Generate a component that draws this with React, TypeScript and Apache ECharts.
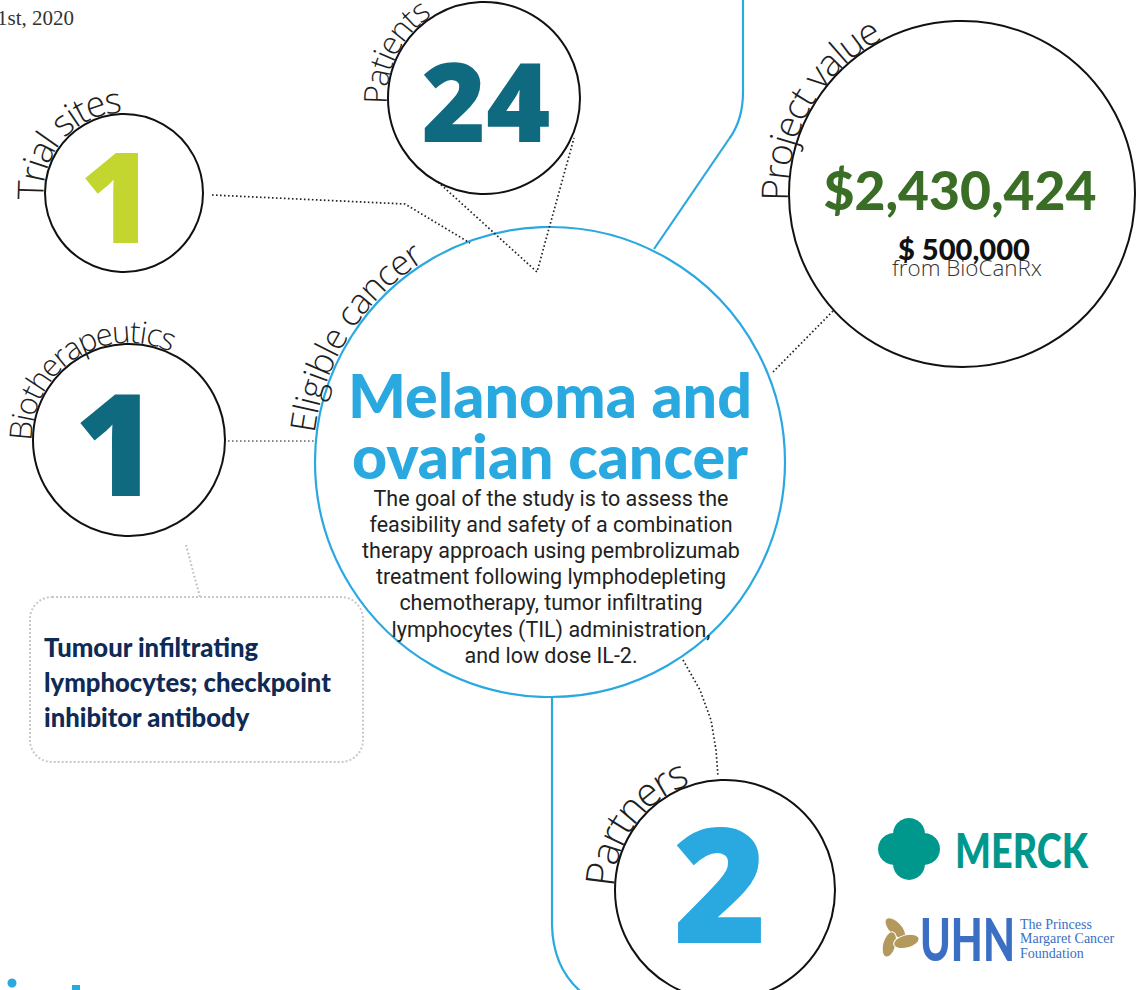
import React, { useEffect, useRef } from "react";
import * as echarts from "echarts";

// ---- content ----
const dateText = "1st, 2020";
const statLabels = ["Trial sites", "Patients", "Biotherapeutics", "Partners"];
const statValues = ["1", "24", "1", "2"];
const statColors = ["#c2d62f", "#0f6a80", "#0f6a80", "#2aa8e0"];
const cancerLabel = "Eligible cancer";
const cancerTitle = ["Melanoma and", "ovarian cancer"];
const studyLines = [
  "The goal of the study is to assess the",
  "feasibility and safety of a combination",
  "therapy approach using pembrolizumab",
  "treatment following lymphodepleting",
  "chemotherapy, tumor infiltrating",
  "lymphocytes (TIL) administration,",
  "and low dose IL-2.",
];
const projectLabel = "Project value";
const projectValue = "$2,430,424";
const bioCanRxValue = "$ 500,000";
const bioCanRxLabel = "from BioCanRx";
const biotherapeuticLines = ["Tumour infiltrating", "lymphocytes; checkpoint", "inhibitor antibody"];
const partnerNames = ["MERCK", "UHN"];
const pmLines = ["The Princess", "Margaret Cancer", "Foundation"];

// ---- layout ----
const THIN = "Open Sans";
const BOLD = "Lato";
const DIGIT = "Open Sans";
const INK = "#1f1f1f";
const BLUE = "#2aa8e0";

let measureCtx: CanvasRenderingContext2D | null = null;
function textWidth(t: string, size: number, weight: string | number, family: string) {
  if (!measureCtx) measureCtx = document.createElement("canvas").getContext("2d");
  measureCtx!.font = `${weight} ${size}px "${family}"`;
  return measureCtx!.measureText(t).width;
}
function sizeFor(t: string, weight: string | number, family: string, target: number) {
  return (100 * target) / textWidth(t, 100, weight, family);
}

function arcText(text: string, cx: number, cy: number, R: number, startDeg: number, size: number) {
  const els: any[] = [];
  let th = (startDeg * Math.PI) / 180;
  for (const ch of text) {
    const w = textWidth(ch, size, 300, THIN);
    const tc = th - w / 2 / R;
    els.push({
      type: "text",
      x: cx + R * Math.cos(tc),
      y: cy - R * Math.sin(tc),
      rotation: tc - Math.PI / 2,
      silent: true,
      style: {
        text: ch,
        fill: INK,
        fontSize: size,
        fontWeight: 300,
        fontFamily: THIN,
        align: "center",
        verticalAlign: "middle",
      },
    });
    th -= w / R;
  }
  return els;
}

function txt(text: string, x: number, y: number, size: number, color: string, weight: any, family: string, align = "center", extra: any = {}) {
  return {
    type: "text",
    x,
    y,
    silent: true,
    ...extra,
    style: { text, fill: color, fontSize: size, fontWeight: weight, fontFamily: family, align, verticalAlign: "middle" },
  };
}

function ring(cx: number, cy: number, r: number, color = "#111", lw = 2) {
  return { type: "circle", shape: { cx, cy, r }, style: { fill: "rgba(0,0,0,0)", stroke: color, lineWidth: lw } };
}

function dotted(points: number[][], color = "#222", lw = 1.7) {
  return {
    type: "polyline",
    shape: { points },
    style: { fill: null, stroke: color, lineWidth: lw, lineDash: [1.6, 2.4] },
  };
}

export default function App() {
  const ref = useRef<HTMLDivElement>(null);
  useEffect(() => {
    const chart = echarts.init(ref.current!, null, { renderer: "svg" });
    const els: any[] = [];

    // central circle + blue connectors
    els.push(ring(550, 462, 235, BLUE, 2.2));
    els.push({ type: "line", shape: { x1: 743, y1: 0, x2: 743, y2: 92 }, style: { stroke: BLUE, lineWidth: 2.2 } });
    els.push({ type: "bezierCurve", shape: { x1: 743, y1: 92, cpx1: 743, cpy1: 120, x2: 729, y2: 139 }, style: { stroke: BLUE, lineWidth: 2.2, fill: null } });
    els.push({ type: "line", shape: { x1: 729, y1: 139, x2: 654, y2: 249 }, style: { stroke: BLUE, lineWidth: 2.2 } });
    els.push({ type: "line", shape: { x1: 552, y1: 697, x2: 552, y2: 925 }, style: { stroke: BLUE, lineWidth: 2.2 } });
    els.push({ type: "bezierCurve", shape: { x1: 552, y1: 925, cpx1: 553, cpy1: 975, x2: 592, y2: 1000 }, style: { stroke: BLUE, lineWidth: 2.2, fill: null } });

    // dotted connectors
    els.push(dotted([[212, 195], [405, 204], [470, 243]]));
    els.push(dotted([[438, 182], [537, 272], [574, 138]]));
    els.push(dotted([[228, 441], [316, 441]], "#666"));
    els.push(dotted([[186, 545], [194, 575], [200, 597]], "#bbb", 2));
    els.push(dotted([[833, 311], [773, 372]]));
    els.push(dotted([[683, 660], [700, 690], [711, 720], [716, 750], [718, 777]]));

    // stat circles
    const circles = [
      { cx: 124, cy: 193, r: 79, font: 36, start: 184, vx: 117, vy: 194, vs: 126 },
      { cx: 484, cy: 98, r: 96, font: 32, start: 183, vx: 486, vy: 99, vs: 110 },
      { cx: 129, cy: 440, r: 96, font: 31, start: 180, vx: 116, vy: 441, vs: 142 },
      { cx: 725, cy: 890, r: 110, font: 40, start: 178, vx: 720, vy: 881, vs: 160 },
    ];
    circles.forEach((c, i) => {
      els.push(ring(c.cx, c.cy, c.r));
      els.push(...arcText(statLabels[i], c.cx, c.cy, c.r + 2 + c.font * 0.36, c.start, c.font));
      els.push(txt(statValues[i], c.vx, c.vy, c.vs, statColors[i], 800, DIGIT));
    });

    // eligible cancer label
    els.push(...arcText(cancerLabel, 550, 462, 238 + 35 * 0.36, 173, 35));

    // central title + paragraph
    const t1 = sizeFor(cancerTitle[0], 900, BOLD, 404);
    els.push(txt(cancerTitle[0], 550, 394, t1, BLUE, 900, BOLD));
    els.push(txt(cancerTitle[1], 550, 455, t1, BLUE, 900, BOLD));
    const ps = sizeFor(studyLines[0], 400, "Roboto", 355);
    studyLines.forEach((l, i) => els.push(txt(l, 551, 498 + i * 26.2, ps, "#222", 400, "Roboto")));

    // project value circle
    els.push(ring(962, 194, 173));
    els.push(...arcText(projectLabel, 962, 194, 175 + 37 * 0.36, 182, 37));
    els.push(txt(projectValue, 960, 189, sizeFor(projectValue, 900, BOLD, 273), "#3a6e26", 900, BOLD));
    els.push(txt(bioCanRxLabel, 967, 267, sizeFor(bioCanRxLabel, 300, THIN, 150), "#333", 300, THIN));
    els.push(txt(bioCanRxValue, 964, 248, sizeFor(bioCanRxValue, 900, BOLD, 132), "#111", 900, BOLD));

    // biotherapeutic box
    els.push({
      type: "rect",
      shape: { x: 30, y: 597, width: 333, height: 165, r: 22 },
      style: { fill: null, stroke: "#c9c9c9", lineWidth: 2, lineDash: [2, 2] },
    });
    const bs = sizeFor(biotherapeuticLines[1], 900, BOLD, 287);
    biotherapeuticLines.forEach((l, i) => els.push(txt(l, 44, 647 + i * 35, bs, "#0e2a55", 900, BOLD, "left")));

    // date fragment
    els.push(txt(dateText, -3, 18, 21, "#333", 400, "Liberation Serif", "left"));

    // bottom-left fragments
    els.push({ type: "circle", shape: { cx: 12, cy: 983, r: 4.5 }, style: { fill: BLUE } });
    els.push({ type: "rect", shape: { x: 72, y: 985, width: 8, height: 8 }, style: { fill: BLUE } });

    // Merck logo
    const mc = [909, 849];
    const teal = "#00978c";
    [[-15, 0], [15, 0], [0, -15], [0, 15]].forEach(([dx, dy]) =>
      els.push({ type: "circle", shape: { cx: mc[0] + dx, cy: mc[1] + dy, r: 16 }, style: { fill: teal } })
    );
    els.push({ type: "circle", shape: { cx: mc[0], cy: mc[1], r: 18 }, style: { fill: teal } });
    const mw = textWidth(partnerNames[0], 48, 900, BOLD);
    els.push(txt(partnerNames[0], 955, 849, 48, teal, 900, BOLD, "left", { scaleX: 133 / mw }));

    // UHN logo
    const gold = "#b39a5c";
    const gc = [897, 938];
    [100, 220, 340].forEach((a) => {
      const rad = (a * Math.PI) / 180;
      els.push({
        type: "ellipse",
        x: gc[0] + 10 * Math.cos(rad),
        y: gc[1] - 10 * Math.sin(rad),
        rotation: rad + 0.6,
        shape: { cx: 0, cy: 0, rx: 13, ry: 6.5 },
        style: { fill: gold, stroke: "#fff", lineWidth: 1 },
      });
    });
    const uw = textWidth(partnerNames[1], 58, 900, BOLD);
    els.push(txt(partnerNames[1], 920, 939, 58, "#3a6fc4", 900, BOLD, "left", { scaleX: 95 / uw }));
    pmLines.forEach((l, i) => els.push(txt(l, 1020, 924 + i * 14.5, 14, "#3a6fc4", 400, "Liberation Serif", "left")));

    chart.setOption({ animation: false, graphic: { elements: els } });
    return () => chart.dispose();
  }, []);
  return <div ref={ref} style={{ position: "absolute", left: 0, top: 0, width: 1142, height: 990, background: "#fff" }} />;
}
